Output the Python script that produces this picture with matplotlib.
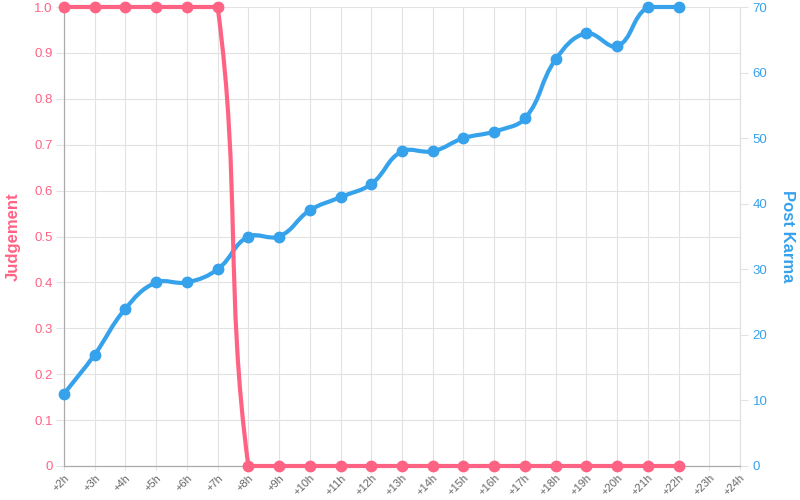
import matplotlib.pyplot as plt
import numpy as np
from matplotlib.path import Path
import matplotlib.patches as patches

plt.rcParams['font.family'] = ['Liberation Sans', 'DejaVu Sans']

hours = ['+%dh' % h for h in range(2, 25)]
judgement = [1, 1, 1, 1, 1, 1, 0, 0, 0, 0, 0, 0, 0, 0, 0, 0, 0, 0, 0, 0, 0]
karma = [11, 17, 24, 28, 28, 30, 35, 35, 39, 41, 43, 48, 48, 50, 51, 53, 62, 66, 64, 70, 70]

PINK = '#ff6384'
BLUE = '#36a2eb'
GRID = '#e2e2e2'
TXT = '#666666'


def spline_path(xs, ys, tension=0.4):
    # chart.js style bezier through points (in axes-fraction space)
    pts = np.column_stack([xs, ys])
    n = len(pts)
    verts = [tuple(pts[0])]
    codes = [Path.MOVETO]
    cps = []
    for i in range(n):
        prev = pts[max(i - 1, 0)]
        cur = pts[i]
        nxt = pts[min(i + 1, n - 1)]
        d01 = np.hypot(*(cur - prev))
        d12 = np.hypot(*(nxt - cur))
        tot = d01 + d12
        s01 = d01 / tot if tot else 0
        s12 = d12 / tot if tot else 0
        pcp = np.clip(cur - tension * s01 * (nxt - prev), 0, 1)
        ncp = np.clip(cur + tension * s12 * (nxt - prev), 0, 1)
        cps.append((pcp, ncp))
    for i in range(1, n):
        verts += [tuple(cps[i - 1][1]), tuple(cps[i][0]), tuple(pts[i])]
        codes += [Path.CURVE4] * 3
    return Path(verts, codes)


fig = plt.figure(figsize=(8, 5), dpi=100)
ax = fig.add_axes([64 / 800, 34 / 500, 676 / 800, 459 / 500])
ax2 = ax.twinx()
ax.set_zorder(ax2.get_zorder() + 1)
ax.patch.set_visible(False)

nx = len(hours) - 1
x = np.arange(len(karma))

# karma (blue), drawn on top axes using the right axis scale
kp = spline_path(x / nx, np.array(karma) / 70)
ax.add_patch(patches.PathPatch(kp, transform=ax.transAxes, fill=False,
                               edgecolor=BLUE, lw=3, clip_on=False, zorder=3))
ax.plot(x, karma, 'o', color=BLUE, ms=7.5, clip_on=False, zorder=4,
        transform=ax2.transData)

# judgement (pink)
jp = spline_path(x / nx, np.array(judgement, dtype=float))
ax.add_patch(patches.PathPatch(jp, transform=ax.transAxes, fill=False,
                               edgecolor=PINK, lw=3, clip_on=False, zorder=5))
ax.plot(x, judgement, 'o', color=PINK, ms=7.5, clip_on=False, zorder=6)

ax.set_xlim(0, nx)
ax.set_ylim(0, 1)
ax2.set_ylim(0, 70)

ax.set_xticks(np.arange(len(hours)))
ax.set_xticklabels(hours, rotation=45, ha='right', rotation_mode='anchor',
                   fontsize=8, color=TXT)
ax.set_yticks(np.arange(0, 1.01, 0.1))
ax.set_yticklabels(['0'] + ['%.1f' % v for v in np.arange(0.1, 1.01, 0.1)],
                   fontsize=9.5, color=PINK)
ax2.set_yticks(range(0, 71, 10))
ax2.set_yticklabels([str(v) for v in range(0, 71, 10)], fontsize=9.5, color=BLUE)

ax.grid(True, color=GRID, lw=0.8, zorder=0)
ax.set_axisbelow(True)
ax.tick_params(axis='x', length=3, color=GRID, pad=2)
ax.tick_params(axis='y', length=6, color=GRID, pad=2)
ax2.tick_params(axis='y', length=6, color=GRID, pad=3)

for a in (ax, ax2):
    a.spines['top'].set_visible(False)
    a.spines['right'].set_color(GRID)
    a.spines['left'].set_color('#aaaaaa')
    a.spines['bottom'].set_color('#aaaaaa')

ax.set_ylabel('Judgement', color=PINK, fontsize=12, fontweight='bold', labelpad=10)
ax2.set_ylabel('Post Karma', color=BLUE, fontsize=12, fontweight='bold',
               rotation=-90, labelpad=20)

fig.savefig('out.png', dpi=100)
